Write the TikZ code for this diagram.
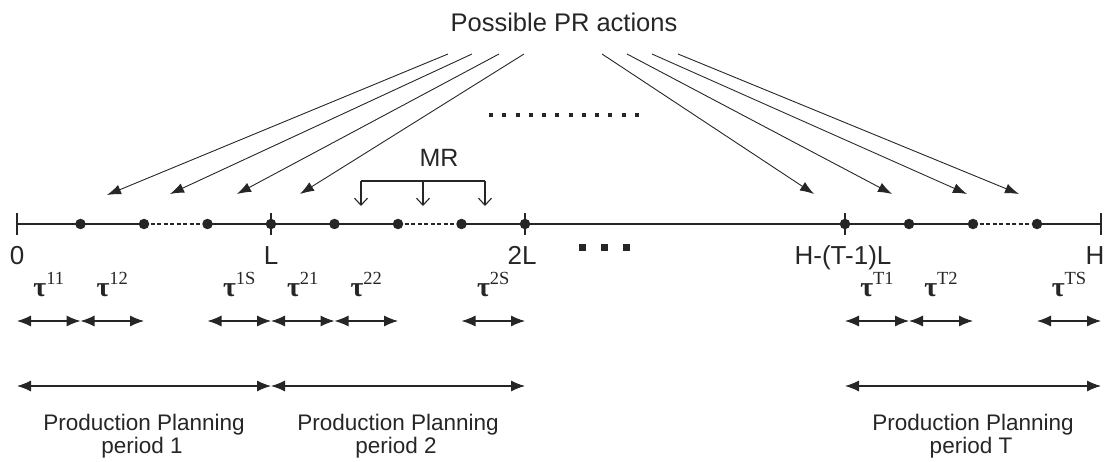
\documentclass[tikz,border=0pt]{standalone}
\usepackage{fontspec}
\setmainfont{Liberation Sans}
\newfontfamily\grserif{Liberation Serif}
\usetikzlibrary{arrows.meta}
\definecolor{ink}{gray}{0.15}
\newcommand{\taulab}[1]{{\grserif\fontsize{28}{28}\selectfont\bfseries τ}{\grserif\fontsize{18.5}{18.5}\selectfont\raisebox{11.5pt}{#1}}}
\tikzset{
  axis/.style={draw=ink, line width=1.3pt},
  dashseg/.style={draw=ink, line width=1.1pt, dash pattern=on 4pt off 2.5pt},
  dotn/.style={circle, fill=ink, inner sep=0pt, minimum size=10.5pt},
  pr/.style={draw=ink, line width=0.9pt, -{Latex[length=14pt,width=10pt]}},
  spanarr/.style={draw=ink, line width=1.1pt, {Latex[length=14pt,width=11pt]}-{Latex[length=14pt,width=11pt]}},
  mrarr/.style={draw=ink, line width=1.1pt, -{Straight Barb[length=7pt,width=13pt]}},
  lab/.style={text=ink, inner sep=0pt, anchor=base, font=\fontsize{26}{26}\selectfont},
  taun/.style={text=ink, inner sep=0pt, anchor=base},
  pptext/.style={text=ink, inner sep=0pt, anchor=base, font=\fontsize{22.5}{22.5}\selectfont},
  sq/.style={fill=ink, draw=none}
}
\begin{document}
\begin{tikzpicture}[x=1pt,y=-1pt]
\useasboundingbox (0,0) rectangle (1105,462);

% title
\node[text=ink, inner sep=0pt, anchor=base, font=\fontsize{25.5}{25.5}\selectfont] (title) at (564,32) {Possible PR actions};

% timeline coordinates
\coordinate (a0) at (17,224);
\coordinate (a1) at (80.5,224);
\coordinate (a2) at (144,224);
\coordinate (a3) at (207.5,224);
\coordinate (a4) at (271,224);
\coordinate (a5) at (334.5,224);
\coordinate (a6) at (398,224);
\coordinate (a7) at (461.5,224);
\coordinate (a8) at (525,224);
\coordinate (t0) at (845,224);
\coordinate (t1) at (909,224);
\coordinate (t2) at (973,224);
\coordinate (t3) at (1037,224);
\coordinate (t4) at (1101,224);

% timeline
\draw[axis] (a0) -- (a2);
\draw[dashseg] (a2) -- (a3);
\draw[axis] (a3) -- (a6);
\draw[dashseg] (a6) -- (a7);
\draw[axis] (a7) -- (t2);
\draw[dashseg] (t2) -- (t3);
\draw[axis] (t3) -- (t4);
\foreach \c in {a0,a4,a8,t0,t4}{
  \draw[axis, line width=1.1pt] ([yshift=11pt]\c) -- ([yshift=-11pt]\c);
}
\foreach \c in {a1,a2,a3,a4,a5,a6,a7,a8,t0,t1,t2,t3}{
  \node[dotn] (d\c) at (\c) {};
}

% axis labels
\node[lab] (l0) at (17,265) {0};
\node[lab] (lL) at (271,265) {L};
\node[lab] (l2L) at (522,265) {2L};
\node[lab] (lT) at (843,265) {H-(T-1)L};
\node[lab] (lH) at (1095,265) {H};

% ellipses
\fill[sq] (578.5,244.5) rectangle ++(7,7);
\fill[sq] (600.5,244.5) rectangle ++(7,7);
\fill[sq] (622.5,244.5) rectangle ++(7,7);
\draw[ink, line width=4pt, dash pattern=on 4pt off 9.27pt] (489,115) -- (641,115);

% PR arrows
\coordinate (s1) at (448,54);
\coordinate (s2) at (472,54);
\coordinate (s3) at (499,54);
\coordinate (s4) at (524,54);
\coordinate (s5) at (602,54);
\coordinate (s6) at (627,54);
\coordinate (s7) at (652,54);
\coordinate (s8) at (678,54);
\coordinate (e1) at (107,195);
\coordinate (e2) at (170,194);
\coordinate (e3) at (237,194);
\coordinate (e4) at (300,194);
\coordinate (e5) at (814,194);
\coordinate (e6) at (892,194);
\coordinate (e7) at (967,194);
\coordinate (e8) at (1019,194);
\foreach \i in {1,...,8}{ \draw[pr] (s\i) -- (e\i); }

% MR bracket
\node[text=ink, inner sep=0pt, anchor=base, font=\fontsize{25}{25}\selectfont] (mr) at (439,167) {MR};
\coordinate (m1) at (361,181);
\coordinate (m2) at (423,181);
\coordinate (m3) at (485,181);
\draw[draw=ink, line width=1.1pt] (m1) -- (m3);
\draw[mrarr] (m1) -- ++(0,25);
\draw[mrarr] (m2) -- ++(0,25);
\draw[mrarr] (m3) -- ++(0,25);

% tau labels
\node[taun] (tau11) at (48.75,296) {\taulab{11}};
\node[taun] (tau12) at (112.25,296) {\taulab{12}};
\node[taun] (tau1S) at (239.25,296) {\taulab{1S}};
\node[taun] (tau21) at (302.75,296) {\taulab{21}};
\node[taun] (tau22) at (366.25,296) {\taulab{22}};
\node[taun] (tau2S) at (493.25,296) {\taulab{2S}};
\node[taun] (tauT1) at (877,296) {\taulab{T1}};
\node[taun] (tauT2) at (941,296) {\taulab{T2}};
\node[taun] (tauTS) at (1069,296) {\taulab{TS}};

% interval arrows
\coordinate (r1) at (0,321);
\coordinate (r2) at (0,386);
\draw[spanarr] (a0 |- r1) -- (a1 |- r1);
\draw[spanarr] (a1 |- r1) -- (a2 |- r1);
\draw[spanarr] (a3 |- r1) -- (a4 |- r1);
\draw[spanarr] (a4 |- r1) -- (a5 |- r1);
\draw[spanarr] (a5 |- r1) -- (a6 |- r1);
\draw[spanarr] (a7 |- r1) -- (a8 |- r1);
\draw[spanarr] (t0 |- r1) -- (t1 |- r1);
\draw[spanarr] (t1 |- r1) -- (t2 |- r1);
\draw[spanarr] (t3 |- r1) -- (t4 |- r1);
\draw[spanarr] (a0 |- r2) -- (a4 |- r2);
\draw[spanarr] (a4 |- r2) -- (a8 |- r2);
\draw[spanarr] (t0 |- r2) -- (t4 |- r2);

% period texts
\node[pptext] (pp1a) at (144,430) {Production Planning};
\node[pptext] (pp1b) at (142,453) {period 1};
\node[pptext] (pp2a) at (398,430) {Production Planning};
\node[pptext] (pp2b) at (396,453) {period 2};
\node[pptext] (ppTa) at (973,430) {Production Planning};
\node[pptext] (ppTb) at (971,453) {period T};
\end{tikzpicture}
\end{document}
